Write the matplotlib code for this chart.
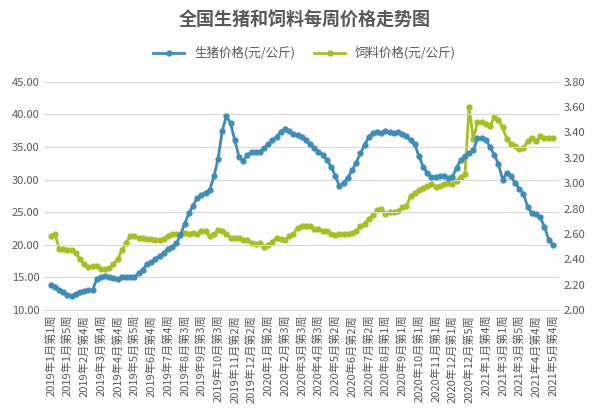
import matplotlib
matplotlib.use("Agg")
import matplotlib.pyplot as plt
import numpy as np

plt.rcParams['font.family'] = ['Noto Sans CJK SC', 'DejaVu Sans']

tick_labels = ["2019年1月第1周","2019年1月第5周","2019年2月第4周","2019年3月第4周","2019年4月第4周",
"2019年5月第5周","2019年6月第4周","2019年7月第4周","2019年8月第3周","2019年9月第3周",
"2019年10月第3周","2019年11月第2周","2019年12月第2周","2020年1月第2周","2020年2月第3周",
"2020年3月第3周","2020年4月第3周","2020年5月第2周","2020年6月第2周","2020年7月第2周",
"2020年8月第1周","2020年9月第1周","2020年10月第1周","2020年11月第1周","2020年12月第1周",
"2020年12月第5周","2021年1月第4周","2021年3月第1周","2021年3月第5周","2021年4月第4周","2021年5月第4周"]

pig = [13.8,13.5,13.1,12.7,12.3,12.2,12.5,12.8,12.9,13.0,
13.0,14.8,15.1,15.2,15.0,14.9,14.8,15.0,15.0,15.1,
15.1,15.6,16.2,17.0,17.3,17.8,18.3,18.8,19.3,19.6,
20.2,21.5,23.2,24.8,26.0,27.2,27.6,28.0,28.4,30.5,
33.2,37.5,39.8,38.6,36.0,33.5,32.8,33.8,34.2,34.3,
34.2,34.8,35.5,36.0,36.6,37.3,37.8,37.4,37.0,36.8,
36.6,36.0,35.4,34.9,34.3,33.8,33.0,32.0,30.6,29.0,
29.5,30.3,31.4,32.6,34.0,35.3,36.5,37.2,37.3,37.2,
37.5,37.3,37.1,37.3,37.0,36.7,36.0,35.4,33.6,32.0,
31.0,30.4,30.4,30.5,30.6,30.3,30.4,31.8,33.0,33.6,
34.0,34.5,36.3,36.3,36.1,35.0,33.8,32.4,30.0,31.0,
30.5,29.5,28.6,27.8,25.8,24.8,24.7,24.2,22.8,20.8,
20.0]

feed = [2.58,2.60,2.48,2.48,2.47,2.47,2.45,2.40,2.36,2.34,
2.35,2.35,2.32,2.32,2.33,2.36,2.40,2.47,2.53,2.58,
2.58,2.57,2.57,2.56,2.56,2.55,2.55,2.56,2.58,2.60,
2.60,2.60,2.61,2.60,2.61,2.60,2.62,2.62,2.58,2.60,
2.63,2.62,2.60,2.57,2.57,2.57,2.55,2.55,2.53,2.52,
2.53,2.50,2.51,2.54,2.57,2.56,2.55,2.58,2.60,2.65,
2.66,2.66,2.66,2.64,2.64,2.62,2.62,2.60,2.59,2.60,
2.60,2.60,2.61,2.62,2.66,2.68,2.72,2.75,2.79,2.80,
2.76,2.77,2.77,2.78,2.81,2.82,2.90,2.92,2.95,2.96,
2.98,2.99,2.97,2.98,2.99,3.00,2.99,3.02,3.05,3.07,
3.60,3.35,3.48,3.48,3.47,3.45,3.52,3.50,3.44,3.35,
3.31,3.29,3.27,3.28,3.33,3.36,3.33,3.37,3.36,3.36,
3.36]

x = np.arange(len(pig))
fig = plt.figure(figsize=(6.09, 4.15), dpi=100)
ax = fig.add_axes([0.073, 0.253, 0.845, 0.55])
ax2 = ax.twinx()
pc = '#3d8dbb'; fc = '#a8bf1f'
l1, = ax.plot(x, pig, color=pc, lw=2, marker='o', ms=3.5, label='生猪价格(元/公斤)', zorder=3)
l2, = ax2.plot(x, feed, color=fc, lw=2, marker='o', ms=3.5, label='饲料价格(元/公斤)')
ax.set_ylim(10, 45); ax.set_yticks(np.arange(10, 46, 5))
ax.set_yticklabels([f"{v:.2f}" for v in np.arange(10, 46, 5)])
ax2.set_ylim(2.0, 3.8); ax2.set_yticks(np.arange(2.0, 3.81, 0.2))
ax2.set_yticklabels([f"{v:.2f}" for v in np.arange(2.0, 3.81, 0.2)])
ax.set_xlim(-1.5, len(pig) + 0.5)
ax.set_xticks(np.arange(0, len(pig), 4))
ax.set_xticklabels(tick_labels, rotation=90, fontsize=7.5, color='#595959')
ax.grid(axis='y', color='#d9d9d9', lw=0.8)
ax.set_axisbelow(True)
for a in (ax, ax2):
    for s in a.spines.values():
        s.set_visible(False)
    a.tick_params(length=0, labelsize=8, colors='#595959')
ax.spines['bottom'].set_visible(True); ax.spines['bottom'].set_color('#d9d9d9')
ax.set_zorder(ax2.get_zorder() + 1); ax.patch.set_visible(False)
fig.suptitle('全国生猪和饲料每周价格走势图', fontsize=13, fontweight='bold', color='#595959', y=0.975)
fig.legend(handles=[l1, l2], loc='upper center', bbox_to_anchor=(0.5, 0.915), ncol=2,
           frameon=False, fontsize=9, labelcolor='#595959', handlelength=2.5, columnspacing=1.5)
fig.savefig('out.png', dpi=100)
